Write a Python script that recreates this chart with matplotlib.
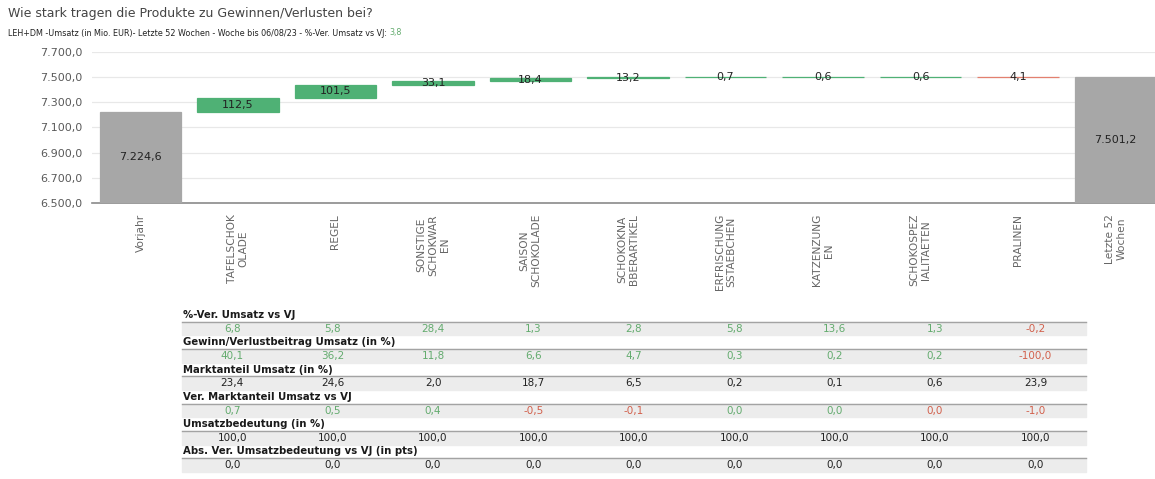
import matplotlib
matplotlib.use("Agg")
import matplotlib.pyplot as plt
import numpy as np

# waterfall data (Mio. EUR)
categories = ["Vorjahr", "TAFELSCHOK\nOLADE", "REGEL", "SONSTIGE\nSCHOKWAR\nEN",
              "SAISON\nSCHOKOLADE", "SCHOKOKNA\nBBERARTIKEL", "ERFRISCHUNG\nSSTAEBCHEN",
              "KATZENZUNG\nEN", "SCHOKOSPEZ\nIALITAETEN", "PRALINEN", "Letzte 52\nWochen"]
vorjahr = 7224.6
deltas = [112.5, 101.5, 33.1, 18.4, 13.2, 0.7, 0.6, 0.6, -4.1]
letzte = 7501.2
ver_total = 3.8

# table rows under the chart (one value per product)
row_titles = ["%-Ver. Umsatz vs VJ", "Gewinn/Verlustbeitrag Umsatz (in %)",
              "Marktanteil Umsatz (in %)", "Ver. Marktanteil Umsatz vs VJ",
              "Umsatzbedeutung (in %)", "Abs. Ver. Umsatzbedeutung vs VJ (in pts)"]
pct_ver = [6.8, 5.8, 28.4, 1.3, 2.8, 5.8, 13.6, 1.3, -0.2]
beitrag = [40.1, 36.2, 11.8, 6.6, 4.7, 0.3, 0.2, 0.2, -100.0]
marktanteil = [23.4, 24.6, 2.0, 18.7, 6.5, 0.2, 0.1, 0.6, 23.9]
ver_marktanteil = [0.7, 0.5, 0.4, -0.5, -0.1, 0.0, 0.0, 0.0, -1.0]
ver_ma_sign = [1, 1, 1, -1, -1, 1, 1, -1, -1]   # direction before rounding
umsatzbedeutung = [100.0] * 9
abs_ver_bed = [0.0] * 9

GREEN = "#4fb175"
GREY = "#a7a7a7"
RED = "#e3806f"
TXT_GREEN = "#63ab6e"
TXT_RED = "#d2604c"


def de(v, dec=1):
    s = f"{v:,.{dec}f}"
    return s.replace(",", "X").replace(".", ",").replace("X", ".")


W, H = 1155, 479
fig = plt.figure(figsize=(W / 100, H / 100), dpi=100)

# --- waterfall ---
ax = fig.add_axes([92 / W, 1 - 203 / H, 1 - 92 / W, (203 - 52) / H])
n = len(categories)
x = np.arange(n)
cum = vorjahr + np.concatenate([[0], np.cumsum(deltas)])
bottoms = [6500] + [min(cum[i], cum[i + 1]) for i in range(len(deltas))] + [6500]
heights = [vorjahr - 6500] + [abs(d) for d in deltas] + [letzte - 6500]
colors = [GREY] + [GREEN if d >= 0 else RED for d in deltas] + [GREY]

ax.bar(x, heights, bottom=bottoms, width=0.836, color=colors,
       edgecolor=colors, linewidth=0.9, zorder=3)

labels = [de(vorjahr)] + [de(abs(d)) for d in deltas] + [de(letzte)]
for i in range(n):
    yc = bottoms[i] + heights[i] / 2
    if i == n - 1:
        yc = (6500 + min(letzte, 7700)) / 2
    ax.text(x[i], yc, labels[i], ha="center", va="center", fontsize=8,
            color="#222222", zorder=4)

ax.set_ylim(6500, 7700)
ax.set_xlim(-0.497, 10.405)
yt = np.arange(6500, 7701, 200)
ax.set_yticks(yt)
ax.set_yticklabels([de(v) for v in yt], fontsize=8, color="#5a5a5a")
ax.grid(axis="y", color="#e8e8e8", linewidth=0.9, zorder=0)
ax.set_xticks(x)
ax.set_xticklabels(categories, rotation=90, fontsize=7.7, color="#666666",
                   multialignment="center", va="top", ha="center")
ax.tick_params(length=0)
ax.tick_params(axis="x", pad=8)
ax.tick_params(axis="y", pad=7)
for s in ["top", "right", "left"]:
    ax.spines[s].set_visible(False)
ax.spines["bottom"].set_color("#8a8a8a")
ax.spines["bottom"].set_linewidth(1.2)

# --- titles ---
fig.text(8 / W, 1 - 13 / H, "Wie stark tragen die Produkte zu Gewinnen/Verlusten bei?",
         fontsize=9, color="#444444", va="center", ha="left")
sub = fig.text(8 / W, 1 - 33 / H,
               "LEH+DM -Umsatz (in Mio. EUR)- Letzte 52 Wochen - Woche bis 06/08/23 - %-Ver. Umsatz vs VJ: ",
               fontsize=5.8, color="#222222", va="center", ha="left")
fig.canvas.draw()
bb = sub.get_window_extent(fig.canvas.get_renderer())
fig.text(bb.x1 / W, 1 - 33 / H, de(ver_total), fontsize=5.8, color=TXT_GREEN,
         va="center", ha="left")

# --- table ---
tab = fig.add_axes([0, 0, 1, 1])
tab.set_xlim(0, W)
tab.set_ylim(H, 0)
tab.axis("off")
tab.patch.set_visible(False)

left = 182
col_w = 100.4
pitch = 27.3
rows = [pct_ver, beitrag, marktanteil, ver_marktanteil, umsatzbedeutung, abs_ver_bed]
for r, vals in enumerate(rows):
    yh = 315 + r * pitch
    yv = yh + 13.8
    tab.text(left + 1, yh, row_titles[r], fontsize=7.3, fontweight="bold",
             color="#1a1a1a", va="center", ha="left")
    tab.fill_between([left, left + 9 * col_w], yv - 7, yv + 6.5, color="#ececec", zorder=1)
    tab.plot([left, left + 9 * col_w], [yv - 7, yv - 7], color="#a3a3a3", lw=1, zorder=2)
    for j, v in enumerate(vals):
        if r in (0, 1):
            c = TXT_GREEN if v >= 0 else TXT_RED
        elif r == 3:
            c = TXT_GREEN if ver_ma_sign[j] > 0 else TXT_RED
        else:
            c = "#222222"
        tab.text(left + (j + 0.5) * col_w, yv, de(v), fontsize=7.5, color=c,
                 ha="center", va="center", zorder=3)

fig.savefig("out.png", dpi=100)
